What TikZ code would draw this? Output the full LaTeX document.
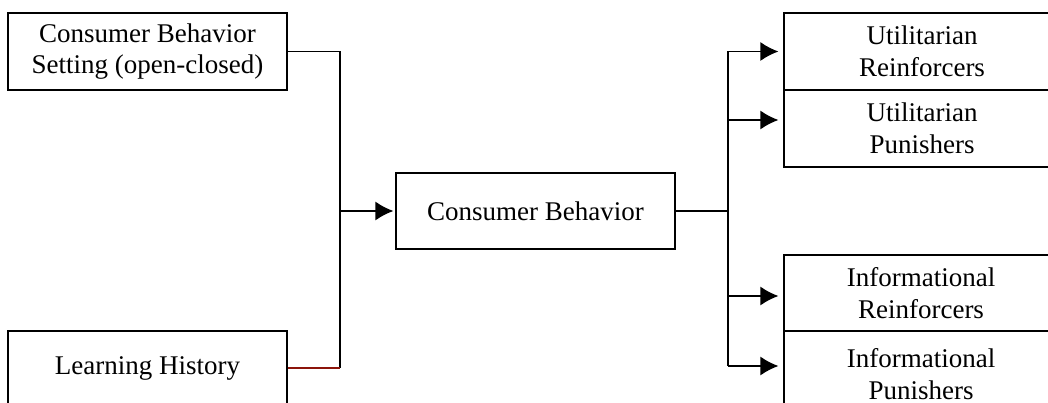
\documentclass[tikz,border=0pt]{standalone}
\usepackage{fontspec}
\setmainfont{Liberation Serif}
\usetikzlibrary{arrows.meta}
\definecolor{linkred}{RGB}{140,20,10}
\tikzset{
    hop/.style={draw, line width=1.3pt, align=center, inner sep=0pt,
        font=\fontsize{27}{31.5}\selectfont},
    lien/.style={line width=1.3pt},
}
\begin{document}
\begin{tikzpicture}[x=1pt, y=-1pt, >={Latex[length=18pt,width=19pt]}]
    % 1. Giới hạn vùng hiển thị
    \useasboundingbox (0,0) rectangle (1048,403);
    \clip (0,0) rectangle (1048,403);

    % 2. Các hộp bên trái và hộp ở giữa
    \node[hop, minimum width=279pt, minimum height=77pt] (tl) at (147.5,51.5)
        {Consumer Behavior\\Setting (open-closed)};
    \node[hop, minimum width=279pt, minimum height=74pt] (bl) at (147.5,368)
        {Learning History};
    \node[hop, minimum width=279pt, minimum height=76pt] (cb) at (535.5,211)
        {Consumer Behavior};

    % 3. Các hộp bên phải (bị cắt ở mép)
    \node[hop, minimum width=276pt, minimum height=77pt] (ur) at (922,51.5)
        {Utilitarian\\Reinforcers};
    \node[hop, minimum width=276pt, minimum height=77pt] (up) at (922,128.5)
        {Utilitarian\\Punishers};
    \node[hop, minimum width=274pt, minimum height=76pt] (ir) at (921,293)
        {Informational\\Reinforcers};
    \node[hop, minimum width=274pt, minimum height=86pt] (ip) at (921,374)
        {Informational\\Punishers};

    % điểm đến của các mũi tên bên phải
    \coordinate (urin) at (ur.west);
    \coordinate (upin) at ([yshift=8.5pt]up.west);
    \coordinate (irin) at ([yshift=-3pt]ir.west);
    \coordinate (ipin) at ([yshift=8pt]ip.west);

    % 4. Đường nối bên trái
    \coordinate (jl) at (340,0);
    \draw[lien] (tl.east) -| (jl |- bl.east);
    \draw[lien, linkred] (bl.east) -- (jl |- bl.east);
    \draw[lien, ->, shorten >=2pt] (jl |- cb.west) -- (cb.west);

    % 5. Đường nối bên phải
    \coordinate (jr) at (728,0);
    \draw[lien] (cb.east) -- (jr |- cb.east);
    \draw[lien] (jr |- urin) -- (jr |- ipin);
    \foreach \t in {urin, upin, irin, ipin}
        \draw[lien, ->, shorten >=5pt] (jr |- \t) -- (\t);
\end{tikzpicture}
\end{document}
